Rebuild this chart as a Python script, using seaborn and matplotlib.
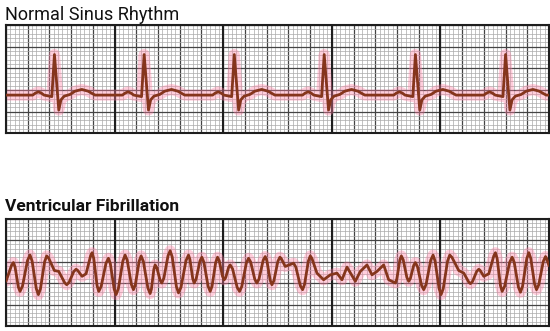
import matplotlib
matplotlib.use("Agg")
import matplotlib.pyplot as plt
from matplotlib.ticker import MultipleLocator
import seaborn as sns

# Grid units: 1 major box on the x axis, 1 major box on the y axis
# Normal sinus rhythm: one beat shape (offset from R peak, height) and R peak times
beat_dt = [-1.0, -0.88, -0.74, -0.60, -0.48, -0.12, 0.0, 0.2, 0.3, 0.45, 0.72, 0.95, 1.26, 1.55, 1.87]
beat_y = [1.77, 1.86, 1.92, 1.86, 1.77, 1.70, 3.64, 1.08, 1.55, 1.72, 1.80, 1.95, 2.03, 1.95, 1.77]
r_peaks = [2.23, 6.36, 10.51, 14.65, 18.85, 23.0]
baseline = 1.77

vf_x = [0.0, 0.255, 0.34, 0.416, 0.569, 0.645, 0.76, 0.991, 1.106, 1.202, 1.394, 1.49, 1.586,
        1.778, 1.874, 1.962, 2.227, 2.427, 2.704, 2.796, 2.904, 3.118, 3.226, 3.295, 3.502,
        3.687, 3.894, 3.963, 4.04, 4.193, 4.27, 4.382, 4.604, 4.716, 4.804, 4.981, 5.069,
        5.173, 5.38, 5.484, 5.58, 5.772, 5.868, 5.956, 6.133, 6.221, 6.325, 6.532, 6.636,
        6.694, 6.808, 6.866, 6.943, 7.096, 7.173, 7.269, 7.461, 7.557, 7.653, 7.846, 7.942,
        8.057, 8.287, 8.402, 8.467, 8.598, 8.663, 8.752, 8.929, 9.017, 9.113, 9.305, 9.401,
        9.486, 9.655, 9.739, 9.816, 9.969, 10.046, 10.115, 10.253, 10.322, 10.43, 10.645,
        10.752, 10.856, 11.063, 11.167, 11.263, 11.455, 11.551, 11.647, 11.839, 11.935,
        12.012, 12.166, 12.243, 12.335, 12.518, 12.61, 12.672, 12.857, 13.241, 13.345,
        13.552, 13.656, 13.744, 13.921, 14.009, 14.086, 14.316, 14.623, 14.931, 15.238,
        15.468, 15.699, 16.083, 16.313, 16.62, 16.851, 17.081, 17.388, 17.619, 17.926,
        17.995, 18.133, 18.202, 18.287, 18.456, 18.54, 18.617, 18.771, 18.848, 18.944,
        19.136, 19.232, 19.34, 19.555, 19.663, 19.755, 19.939, 20.031, 20.131, 20.33, 20.43,
        20.534, 20.845, 21.076, 21.306, 21.383, 21.479, 21.671, 21.767, 21.825, 21.998,
        22.228, 22.458, 22.535, 22.612, 22.765, 22.842, 22.957, 23.188, 23.303, 23.399,
        23.591, 23.687, 23.783, 23.975, 24.071, 24.16, 24.337, 24.425, 24.529, 24.736,
        24.839, 24.879, 25.0]
vf_y = [2.08, 2.82, 2.95, 2.75, 1.81, 1.61, 1.86, 3.05, 3.30, 3.02, 1.74, 1.46, 1.73,
        2.99, 3.26, 3.16, 2.58, 2.54, 2.01, 1.92, 2.03, 2.53, 2.64, 2.59, 2.31,
        2.43, 3.26, 3.41, 3.14, 1.88, 1.61, 1.84, 2.92, 3.15, 2.90, 1.71, 1.46,
        1.74, 3.02, 3.30, 3.06, 1.93, 1.69, 1.93, 3.02, 3.26, 3.00, 1.77, 1.51,
        1.71, 2.64, 2.84, 2.71, 2.13, 2.00, 2.23, 3.27, 3.50, 3.21, 1.83, 1.54,
        1.80, 3.04, 3.30, 3.10, 2.20, 2.00, 2.18, 3.02, 3.20, 2.96, 1.85, 1.61,
        1.85, 2.96, 3.20, 3.04, 2.31, 2.15, 2.25, 2.74, 2.84, 2.66, 1.79,
        1.61, 1.84, 2.92, 3.15, 2.98, 2.17, 2.00, 2.18, 3.05, 3.23,
        3.03, 2.12, 1.92, 2.11, 3.01, 3.20, 3.14, 2.77, 2.92, 2.74,
        1.87, 1.69, 1.93, 3.02, 3.26, 3.14, 2.46, 2.15, 2.38, 2.46,
        2.15, 2.74, 2.08, 2.54, 2.84, 2.38, 2.54, 2.84, 2.15, 2.00,
        2.19, 3.07, 3.26, 3.08, 2.26, 2.08, 2.21, 2.82, 2.95, 2.76,
        1.88, 1.69, 1.93, 3.06, 3.30, 3.02, 1.74, 1.46, 1.74, 3.02, 3.30,
        3.19, 2.58, 2.46, 2.04, 1.97, 2.07, 2.54, 2.64, 2.59, 2.31,
        2.43, 3.26, 3.41, 3.14, 1.88, 1.61, 1.85, 2.96, 3.20, 2.96,
        1.81, 1.57, 1.85, 3.13, 3.41, 3.15, 1.95, 1.69, 1.92, 3.00,
        3.23, 3.17, 2.80]

titles = ["Normal Sinus Rhythm", "Ventricular Fibrillation"]

# build the sinus trace from the beat shape
nsr_x = [0.0]
nsr_y = [baseline]
for r in r_peaks:
    nsr_x += [r + d for d in beat_dt]
    nsr_y += beat_y
nsr_x.append(25.0)
nsr_y.append(baseline)

sns.set_style("white")
plt.rcParams['font.family'] = ['Roboto', 'DejaVu Sans']

fig = plt.figure(figsize=(5.5, 3.31), dpi=100)
ax1 = fig.add_axes([6 / 550, 1 - 133.5 / 331, 543 / 550, 108.5 / 331])
ax2 = fig.add_axes([6 / 550, 1 - 326 / 331, 543 / 550, 107.5 / 331])

trace_color = "#85351c"
glow_color = "#ff7fa3"

for ax, xs, ys in [(ax1, nsr_x, nsr_y), (ax2, vf_x, vf_y)]:
    ax.set_xlim(0, 25)
    ax.set_ylim(0, 5)
    ax.xaxis.set_major_locator(MultipleLocator(1))
    ax.xaxis.set_minor_locator(MultipleLocator(0.2))
    ax.yaxis.set_major_locator(MultipleLocator(1))
    ax.yaxis.set_minor_locator(MultipleLocator(0.2))
    ax.grid(which='minor', color='#aaaaaa', lw=0.5)
    ax.grid(which='major', color='#444444', lw=0.9)
    ax.set_axisbelow(True)
    ax.tick_params(which='both', length=0, labelbottom=False, labelleft=False)
    for xv in range(5, 25, 5):
        ax.axvline(xv, color='#1e1e1e', lw=1.5, zorder=1)
    for s in ax.spines.values():
        s.set_color('#1e1e1e')
        s.set_linewidth(1.5)

    # pink halo under the trace, then the trace itself
    sns.lineplot(x=xs, y=ys, ax=ax, color=glow_color, lw=8, alpha=0.38,
                 estimator=None, sort=False, zorder=2)
    sns.lineplot(x=xs, y=ys, ax=ax, color=trace_color, lw=2.0,
                 estimator=None, sort=False, zorder=3)
    ax.set_xlabel("")
    ax.set_ylabel("")

fig.text(5 / 550, 1 - 20 / 331, titles[0], fontsize=13, va='baseline', ha='left', color='#111111')
fig.text(5 / 550, 1 - 210.7 / 331, titles[1], fontsize=12.5, fontweight='bold', va='baseline',
         ha='left', color='#111111')

fig.savefig("out.png", dpi=100, facecolor='white')
